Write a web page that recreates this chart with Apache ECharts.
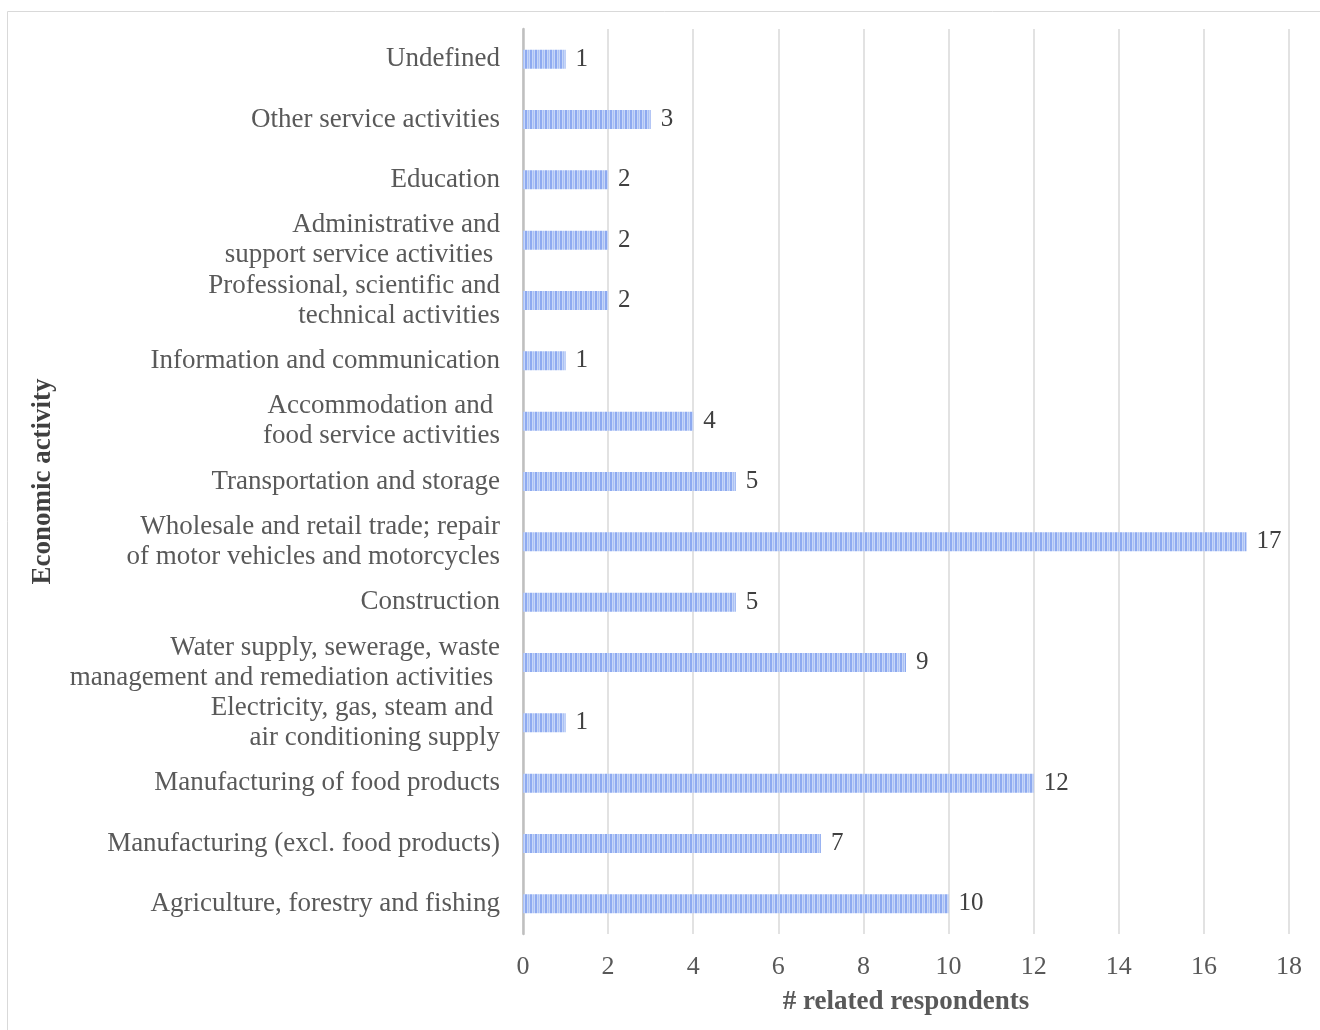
<!DOCTYPE html>
<html>
<head>
<meta charset="utf-8">
<script src="https://cdn.jsdelivr.net/npm/echarts@6/dist/echarts.min.js"></script>
<style>
  html, body { margin: 0; padding: 0; background: #fff; }
  #main { width: 1320px; height: 1030px; }
</style>
</head>
<body>
<div id="main"></div>
<script>
// categories listed bottom to top
const categories = [
    'Agriculture, forestry and fishing',
    'Manufacturing (excl. food products)',
    'Manufacturing of food products',
    'Electricity, gas, steam and \nair conditioning supply',
    'Water supply, sewerage, waste\nmanagement and remediation activities ',
    'Construction',
    'Wholesale and retail trade; repair\nof motor vehicles and motorcycles',
    'Transportation and storage',
    'Accommodation and \nfood service activities',
    'Information and communication',
    'Professional, scientific and\ntechnical activities',
    'Administrative and\nsupport service activities ',
    'Education',
    'Other service activities',
    'Undefined'
];
const respondents = [10, 7, 12, 1, 9, 5, 17, 5, 4, 1, 2, 2, 2, 3, 1];
const xTicks = { min: 0, max: 18, interval: 2 };

// striped fill like the original pattern
function stripePattern() {
    let c = document.createElement('canvas');
    c.width = 5;
    c.height = 20;
    let ctx = c.getContext('2d');
    ctx.fillStyle = '#c6d6f8';
    ctx.fillRect(0, 0, 5, 20);
    ctx.fillStyle = '#8eaaf0';
    ctx.fillRect(0, 0, 2, 20);
    ctx.fillStyle = '#aac1f5';
    ctx.fillRect(3, 0, 1, 20);
    return c;
}

const font = '"Liberation Serif", "Times New Roman", serif';
let myChart = echarts.init(document.getElementById('main'));

let options = {
    animation: false,
    textStyle: { fontFamily: font },
    graphic: [{
        type: 'rect',
        shape: { x: 7.5, y: 11.5, width: 1400, height: 1100 },
        style: { fill: 'none', stroke: '#d9d9d9', lineWidth: 1 },
        silent: true
    }],
    grid: { left: 523, right: 31, top: 29, bottom: 96 },
    xAxis: {
        type: 'value',
        min: xTicks.min,
        max: xTicks.max,
        interval: xTicks.interval,
        name: '# related respondents',
        nameLocation: 'middle',
        nameGap: 55,
        nameTextStyle: { fontFamily: font, fontSize: 27, fontWeight: 'bold', color: '#595959' },
        axisLabel: { fontFamily: font, fontSize: 26, color: '#595959', margin: 20 },
        axisLine: { show: false },
        axisTick: { show: false },
        splitLine: { lineStyle: { color: '#d9d9d9', width: 1.5 } }
    },
    yAxis: {
        type: 'category',
        data: categories,
        name: 'Economic activity',
        nameLocation: 'middle',
        nameGap: 466,
        nameRotate: 90,
        nameTextStyle: { fontFamily: font, fontSize: 27, fontWeight: 'bold', color: '#404040' },
        axisLabel: { fontFamily: font, fontSize: 27, color: '#595959', margin: 23, lineHeight: 30 },
        axisLine: { show: true, lineStyle: { color: '#bfbfbf', width: 2.5 } },
        axisTick: { show: false },
        splitLine: { show: false }
    },
    series: [{
        type: 'bar',
        data: respondents,
        barWidth: 19,
        itemStyle: {
            color: { image: stripePattern(), repeat: 'repeat' }
        },
        label: {
            show: true,
            position: 'right',
            distance: 10,
            fontFamily: font,
            fontSize: 25,
            color: '#404040'
        }
    }]
};
myChart.setOption(options);
</script>
</body>
</html>
